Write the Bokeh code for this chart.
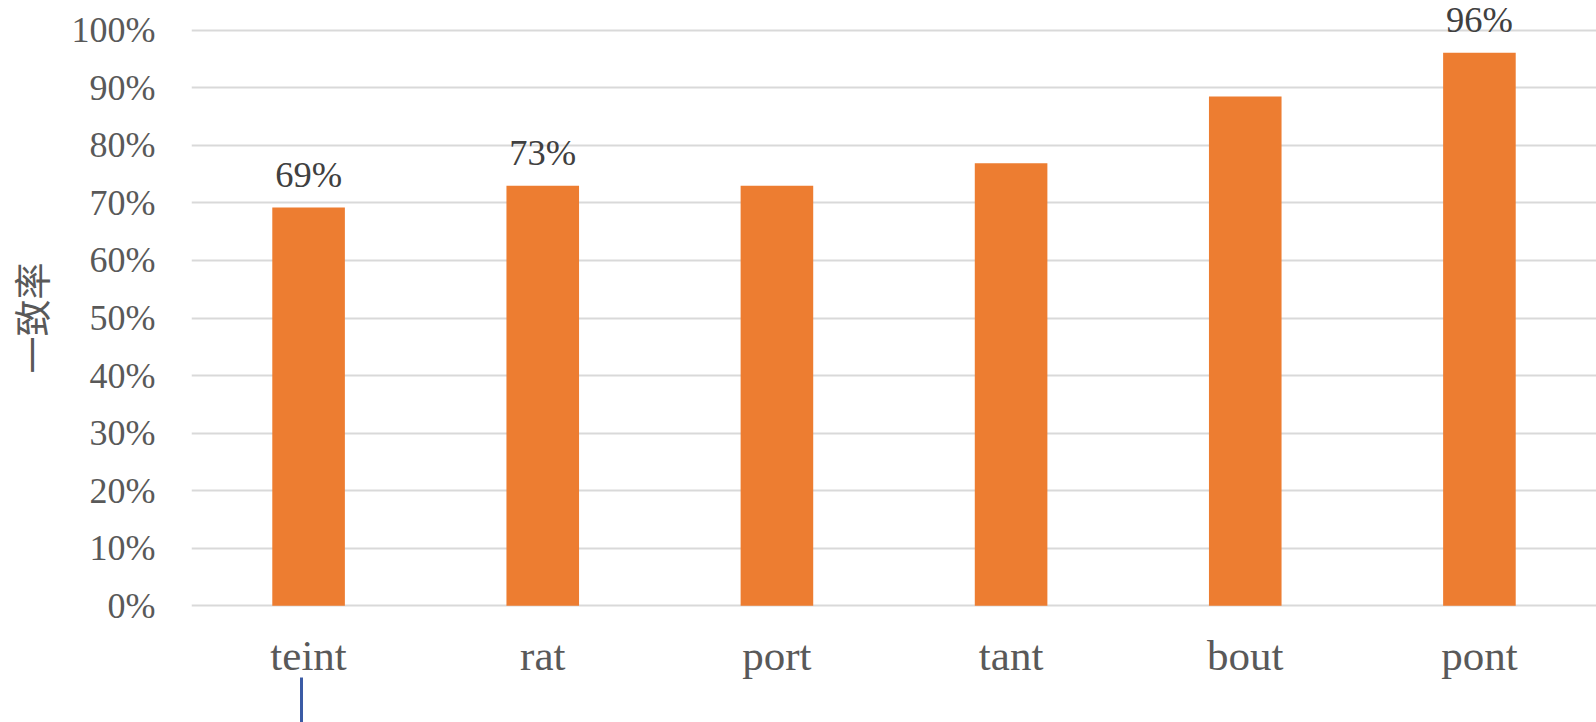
from bokeh.embed import file_html
from bokeh.models import (ColumnDataSource, FixedTicker, LabelSet, LinearAxis,
                          NumeralTickFormatter, Range1d)
from bokeh.plotting import figure
from bokeh.resources import INLINE

# Agreement rate per word
words = ["teint", "rat", "port", "tant", "bout", "pont"]
rates = [0.692, 0.730, 0.730, 0.769, 0.885, 0.961]
labelled = ["teint", "rat", "pont"]
y_ticks = [0.0, 0.1, 0.2, 0.3, 0.4, 0.5, 0.6, 0.7, 0.8, 0.9, 1.0]
y_title = "一致率"

BAR = "#ED7D31"
GRID = "#D9D9D9"
TICK_TEXT = "#595959"
VALUE_TEXT = "#404040"
MARKER = "#3B5BA5"
SERIF = "Liberation Serif"

# one unit-wide slot per word, bars in the middle of each slot
slots = [i + 0.5 for i in range(len(words))]

# symmetric padding around 0–100% keeps the axis title centred on that span
p = figure(
    width=1596, height=722,
    x_range=Range1d(0, len(words)),
    y_range=Range1d(-0.05, 1.05),
    output_backend="svg", toolbar_location=None,
    min_border_left=191, min_border_right=0,
    min_border_top=1, min_border_bottom=88,
)
p.outline_line_color = None
p.background_fill_color = "white"
p.border_fill_color = "white"

src = ColumnDataSource(dict(
    x=slots,
    rate=rates,
    text=[f"{round(r * 100)}%" if w in labelled else "" for w, r in zip(words, rates)],
))
p.vbar(x="x", top="rate", bottom=0, width=0.31, source=src,
       fill_color=BAR, line_color=None)

p.add_layout(LabelSet(
    x="x", y="rate", text="text", source=src, y_offset=21,
    text_align="center", text_baseline="alphabetic",
    text_font=SERIF, text_font_size="36.5px", text_color=VALUE_TEXT,
))

# grid
p.xgrid.grid_line_color = None
p.ygrid.grid_line_color = GRID
p.ygrid.grid_line_width = 2
p.ygrid.ticker = FixedTicker(ticks=y_ticks)

# y axis
p.yaxis.ticker = FixedTicker(ticks=y_ticks)
p.yaxis.formatter = NumeralTickFormatter(format="0%")
p.yaxis.axis_line_color = None
p.yaxis.major_tick_line_color = None
p.yaxis.minor_tick_line_color = None
p.yaxis.major_tick_out = 0
p.yaxis.major_tick_in = 0
p.yaxis.major_label_standoff = 36
p.yaxis.major_label_text_font = SERIF
p.yaxis.major_label_text_font_size = "36px"
p.yaxis.major_label_text_color = TICK_TEXT
p.yaxis.axis_label = y_title
p.yaxis.axis_label_standoff = 11
p.yaxis.axis_label_text_font = "Noto Sans CJK SC"
p.yaxis.axis_label_text_font_size = "37px"
p.yaxis.axis_label_text_font_style = "normal"
p.yaxis.axis_label_text_color = TICK_TEXT

# x axis: word names at slot centres
p.xaxis.ticker = FixedTicker(ticks=slots)
p.xaxis.major_label_overrides = {x: w for x, w in zip(slots, words)}
p.xaxis.axis_line_color = None
p.xaxis.major_tick_line_color = None
p.xaxis.minor_tick_line_color = None
p.xaxis.major_label_standoff = -9
p.xaxis.major_label_text_font = SERIF
p.xaxis.major_label_text_font_size = "43px"
p.xaxis.major_label_text_color = TICK_TEXT

# short blue stroke under the first word, drawn as the lone tick of a bare axis
marker_axis = LinearAxis(
    ticker=FixedTicker(ticks=[0.47]),
    axis_line_color=None,
    major_tick_in=4, major_tick_out=41,
    major_tick_line_color=MARKER, major_tick_line_width=3,
    minor_tick_line_color=None,
    major_label_text_font_size="0px", major_label_standoff=0,
    major_label_text_color=None,
)
p.add_layout(marker_axis, "below")

open("out.html", "w").write(file_html(p, INLINE))
